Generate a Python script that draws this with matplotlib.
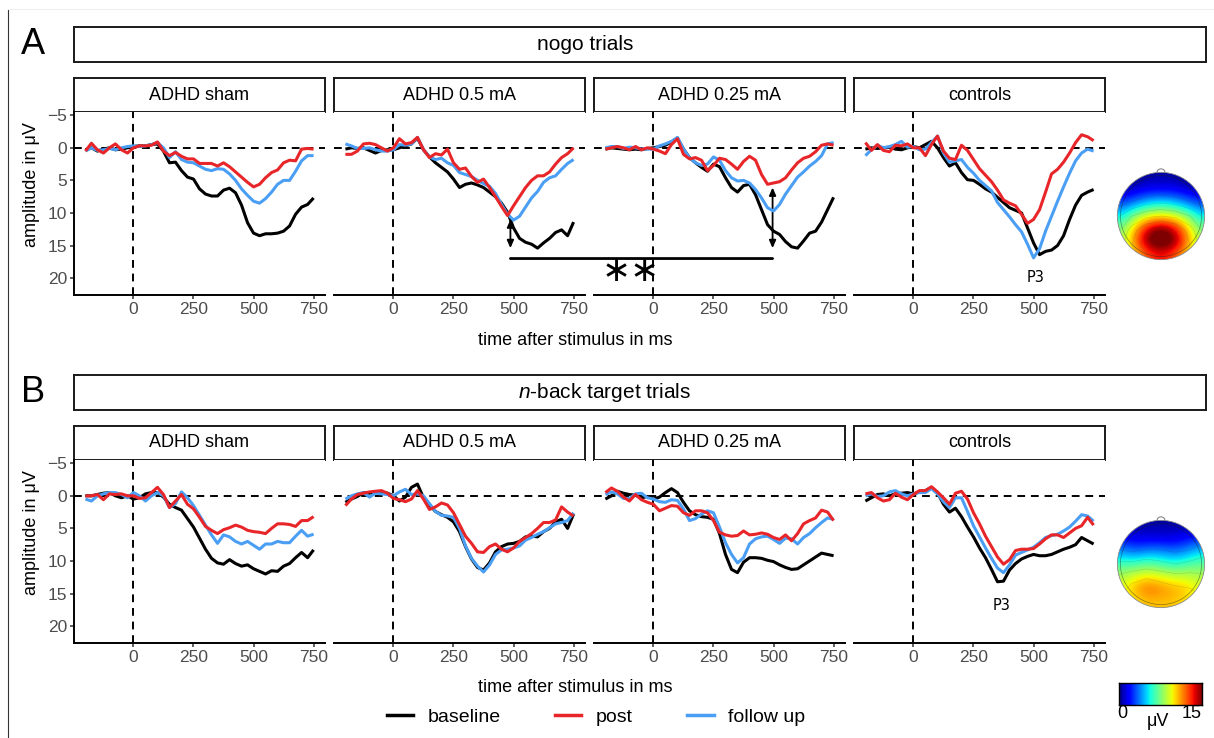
import numpy as np
import matplotlib.pyplot as plt
from matplotlib.patches import Circle, Arc, ConnectionPatch
from matplotlib.lines import Line2D

plt.rcParams['font.family'] = 'Liberation Sans'
plt.rcParams['mathtext.fontset'] = 'custom'
plt.rcParams['mathtext.rm'] = 'Liberation Sans'
plt.rcParams['mathtext.it'] = 'Liberation Sans:italic'

# time after stimulus (ms), grand-average ERP sampled every 25 ms
time = np.arange(-200, 751, 25)

# nogo trials
a_sham_base = [0.3, 0.0, 0.5, 0.2, 0.0, 0.3, 0.2, 0.0, -0.2, -0.3, -0.3, -0.5, -0.6, 0.5, 2.3, 2.2, 3.5, 4.5, 4.8, 6.3, 7.1, 7.4, 7.4, 6.5, 6.2, 6.9, 8.8, 11.5, 13.1, 13.5, 13.2, 13.2, 13.1, 12.8, 12.0, 10.2, 9.1, 8.7, 7.7]
a_sham_post = [0.5, -0.7, 0.3, 0.8, 0.0, -0.6, 0.3, 0.8, 0.0, -0.3, -0.3, -0.4, -0.9, 0.5, 1.2, 0.7, 1.3, 1.7, 1.7, 2.4, 2.4, 2.4, 2.8, 2.3, 2.9, 3.7, 4.5, 5.3, 6.0, 5.6, 4.6, 3.8, 3.4, 2.3, 1.9, 2.0, 0.2, 0.1, 0.2]
a_sham_fu = [0.5, 0.0, 0.4, 0.3, 0.1, 0.3, 0.0, -0.2, -0.3, -0.2, -0.3, -0.5, -0.8, 0.0, 1.5, 0.6, 1.8, 2.2, 2.3, 2.8, 3.3, 3.5, 3.2, 3.3, 4.0, 5.0, 6.3, 7.3, 8.2, 8.5, 7.8, 6.8, 5.6, 5.0, 5.0, 3.6, 2.0, 1.2, 1.2]

a_high_base = [0.2, 0.0, 0.1, 0.0, 0.4, 0.8, 0.4, 0.3, 0.3, 0.0, -0.3, -0.6, -1.5, 0.3, 1.4, 2.3, 3.0, 3.7, 4.8, 6.1, 5.6, 5.4, 5.7, 6.1, 6.8, 7.5, 8.5, 9.9, 12.3, 13.9, 14.5, 14.8, 15.4, 14.6, 13.9, 13.0, 12.6, 13.5, 11.4]
a_high_post = [1.0, 1.0, 0.5, -0.6, -0.7, -0.5, 0.0, 0.5, 0.0, -1.4, -0.6, -0.8, -1.6, 0.3, 1.5, 0.9, 1.1, 0.2, 2.3, 3.3, 3.1, 4.4, 5.3, 4.8, 6.1, 7.5, 9.0, 10.4, 8.9, 7.5, 6.1, 5.0, 4.3, 4.3, 3.7, 2.5, 1.5, 0.9, 0.0]
a_high_fu = [-0.6, -0.3, 0.1, 0.1, 0.0, 0.3, 0.5, 0.5, 0.3, -0.5, -0.4, -0.6, -1.6, 0.3, 1.4, 1.8, 1.6, 2.3, 2.7, 3.8, 4.1, 4.4, 5.0, 5.5, 5.9, 7.0, 8.7, 10.2, 11.1, 10.5, 9.1, 7.7, 6.7, 5.3, 4.6, 4.3, 3.3, 2.4, 1.8]

a_low_base = [0.2, 0.0, 0.1, 0.2, 0.3, 0.2, 0.3, 0.1, 0.0, -0.2, -0.4, -0.9, -1.5, 0.2, 1.5, 2.3, 3.0, 3.6, 2.5, 2.9, 4.6, 6.1, 6.8, 5.8, 5.6, 7.2, 9.5, 11.8, 12.8, 13.3, 14.4, 15.2, 15.4, 14.3, 13.1, 12.8, 11.4, 9.5, 7.6]
a_low_post = [0.2, 0.0, -0.2, 0.0, 0.3, -0.2, 0.3, 0.0, 0.2, 0.5, 0.9, -0.5, -1.4, 1.0, 1.7, 1.5, 1.9, 3.5, 2.7, 1.6, 1.8, 2.5, 3.3, 2.1, 1.3, 1.9, 4.1, 5.6, 5.4, 5.2, 4.6, 3.4, 2.3, 1.6, 1.3, 0.6, -0.4, -0.6, -0.4]
a_low_fu = [0.0, -0.2, -0.2, 0.1, -0.1, 0.0, 0.2, 0.2, 0.2, -0.3, -0.6, -1.0, -1.6, 0.2, 1.5, 2.3, 2.7, 2.5, 1.4, 1.9, 3.5, 4.6, 5.1, 5.0, 5.4, 6.4, 7.7, 9.2, 9.7, 8.7, 7.1, 5.8, 4.5, 3.7, 2.8, 2.1, 1.2, -0.6, -0.8]

a_ctrl_base = [0.2, 0.0, 0.1, 0.0, -0.1, 0.2, 0.3, 0.0, -0.2, 0.0, -0.5, -1.0, 0.0, 1.5, 2.8, 2.3, 3.8, 4.9, 5.0, 5.6, 6.3, 6.8, 7.6, 8.4, 9.2, 9.6, 10.0, 12.3, 14.6, 16.4, 15.9, 15.7, 15.0, 13.5, 11.0, 8.8, 7.3, 6.8, 6.4]
a_ctrl_post = [-0.8, 0.4, -0.5, 0.4, 0.6, -0.4, -0.3, -0.6, 0.0, 0.0, 1.2, -0.5, -1.8, 0.5, 1.6, 1.8, -0.4, 0.4, 1.8, 3.2, 4.2, 5.2, 6.5, 8.0, 8.5, 8.9, 10.2, 11.6, 11.0, 9.5, 6.8, 4.0, 3.3, 2.2, 0.8, -0.8, -2.0, -1.7, -1.1]
a_ctrl_fu = [1.2, 0.3, -0.4, 0.0, -0.2, -0.5, -1.0, -0.1, -0.2, 0.3, 0.2, -0.8, -1.8, 0.8, 2.2, 2.0, 1.8, 3.0, 3.9, 5.0, 5.8, 6.6, 8.4, 9.5, 10.6, 11.8, 12.9, 14.8, 16.9, 15.5, 12.8, 10.5, 8.2, 6.0, 3.9, 2.0, 0.8, 0.2, 0.5]

# n-back target trials
b_sham_base = [0.0, 0.0, -0.2, -0.4, -0.5, 0.0, 0.3, 0.0, 0.5, 0.3, -0.3, -0.5, -0.5, 0.2, 1.3, 1.8, 2.2, 3.5, 4.8, 6.5, 8.2, 9.6, 10.3, 10.5, 9.8, 10.4, 10.8, 10.6, 11.2, 11.6, 12.0, 11.5, 11.6, 10.8, 10.4, 9.5, 8.7, 9.5, 8.3]
b_sham_post = [0.0, 0.0, -0.2, 0.6, -0.3, -0.2, -0.3, 0.0, 0.0, 0.4, 0.3, -0.5, -1.3, -0.2, 1.8, 0.8, -0.2, 1.3, 2.0, 3.3, 4.7, 5.3, 5.8, 5.2, 4.9, 4.5, 4.8, 5.3, 5.5, 5.6, 5.8, 5.0, 4.3, 4.3, 4.4, 4.7, 3.8, 3.8, 3.2]
b_sham_fu = [0.5, 0.8, 0.0, -0.3, -0.5, -0.5, -0.2, 0.3, -0.5, 0.0, 0.8, 0.0, -0.5, 0.0, 1.8, 1.2, -0.6, 0.3, 1.5, 3.0, 4.5, 6.0, 7.3, 6.0, 6.3, 7.0, 7.4, 7.0, 7.6, 8.2, 7.4, 7.4, 7.0, 7.2, 7.2, 6.2, 5.3, 6.2, 5.9]

b_high_base = [1.0, 0.5, 0.1, -0.5, -0.4, -0.6, -0.6, -0.4, 0.0, 0.8, 0.2, -1.3, -1.8, 0.3, 1.4, 2.4, 2.9, 3.3, 4.0, 5.5, 7.8, 9.7, 11.0, 11.4, 10.3, 8.6, 7.8, 7.4, 7.3, 7.0, 6.3, 6.2, 6.3, 5.5, 5.0, 4.0, 3.6, 5.0, 2.8]
b_high_post = [1.5, 0.5, -0.2, -0.4, -0.6, -0.7, -0.8, -0.4, 0.4, 0.6, 0.9, 0.5, -0.8, 0.5, 2.1, 1.7, 1.1, 1.4, 2.6, 4.4, 6.2, 7.3, 8.6, 8.7, 7.8, 7.4, 8.2, 8.6, 8.0, 7.0, 6.4, 5.8, 5.0, 4.1, 4.1, 3.7, 1.7, 2.5, 3.1]
b_high_fu = [0.5, 0.0, -0.3, -0.5, 0.2, -0.4, -0.3, -0.2, 0.0, -0.6, -1.0, -0.2, -0.3, 0.0, 1.2, 2.4, 3.0, 3.1, 3.3, 5.0, 7.7, 9.6, 10.8, 11.7, 10.6, 9.0, 8.3, 8.2, 8.0, 7.7, 6.8, 6.4, 5.9, 5.5, 4.9, 4.3, 4.1, 3.8, 2.6]

b_low_base = [0.5, 0.0, -0.7, -0.4, -0.2, -0.1, 0.3, 0.1, 0.5, 0.2, -0.5, -1.1, -0.5, 1.0, 2.3, 2.9, 3.2, 3.3, 3.6, 5.8, 9.0, 11.3, 11.8, 10.2, 9.5, 9.5, 9.6, 9.9, 10.1, 10.6, 11.0, 11.3, 11.2, 10.6, 10.0, 9.4, 8.8, 9.0, 9.2]
b_low_post = [-0.5, -1.2, -0.7, 0.2, 0.8, -0.2, 0.6, 1.0, 1.3, 2.3, 1.9, 1.5, 1.6, 2.6, 3.0, 2.3, 2.3, 2.6, 3.8, 5.6, 6.0, 6.2, 6.1, 5.4, 6.0, 5.9, 5.7, 5.9, 6.4, 6.7, 6.0, 6.9, 5.8, 4.3, 3.8, 3.4, 2.2, 2.5, 3.8]
b_low_fu = [-0.2, -0.6, -0.3, 0.4, 0.4, -0.3, -0.4, 0.3, 0.5, 0.9, 1.0, 0.6, 0.7, 2.0, 3.8, 3.5, 2.8, 2.3, 2.6, 4.8, 7.2, 9.0, 10.3, 9.5, 7.4, 6.6, 6.3, 6.2, 6.7, 7.3, 6.5, 6.6, 7.4, 6.4, 5.8, 4.9, 4.1, 3.4, 3.6]

b_ctrl_base = [0.8, 0.3, -0.2, -0.3, 0.0, -0.3, -0.4, -0.5, -0.3, -0.6, -0.8, -1.3, -0.5, 1.3, 2.5, 1.9, 3.2, 4.8, 6.3, 8.0, 9.5, 11.3, 13.2, 13.1, 11.4, 10.4, 9.7, 9.3, 9.0, 9.2, 9.2, 9.0, 8.6, 8.2, 7.9, 7.5, 6.4, 6.9, 7.4]
b_ctrl_post = [-0.3, -0.5, 0.3, 0.8, 0.6, -0.4, 0.2, 0.6, -0.2, -0.8, -0.8, -1.4, -0.6, 0.3, 1.3, -0.4, -0.7, 0.5, 2.6, 4.3, 6.2, 7.8, 9.4, 10.5, 9.8, 8.4, 8.2, 8.2, 8.1, 7.4, 6.6, 6.0, 6.0, 6.4, 5.7, 5.0, 4.6, 3.3, 4.5]
b_ctrl_fu = [0.0, -0.3, 0.1, 0.0, -0.6, -0.8, -0.3, 0.0, -0.3, -0.5, -0.5, -1.1, -0.3, 0.9, 1.8, 0.3, 0.3, 2.4, 4.6, 6.3, 8.0, 9.6, 11.1, 11.8, 10.6, 9.1, 8.7, 8.3, 7.9, 7.2, 6.4, 6.1, 5.9, 5.4, 4.8, 3.9, 2.9, 3.1, 3.9]

groups = ['ADHD sham', 'ADHD 0.5 mA', 'ADHD 0.25 mA', 'controls']
sessions = ['baseline', 'post', 'follow up']
session_colors = ['#000000', '#E8262A', '#4A9FF5']

# P3 scalp topography (µV), rows front -> back
nogo_topo = [[0.0, 0.0, 0.5, 0.5, 0.5, 0.0, 0.0],
             [1.0, 1.5, 2.0, 2.0, 2.0, 1.5, 1.0],
             [3.0, 4.0, 5.0, 5.5, 5.0, 4.0, 3.0],
             [5.5, 8.0, 9.5, 10.0, 9.5, 8.0, 5.5],
             [7.5, 11.0, 14.0, 15.5, 14.0, 11.0, 7.5],
             [8.5, 12.0, 15.5, 16.5, 15.5, 12.0, 8.5],
             [7.5, 10.5, 12.5, 13.5, 12.5, 10.5, 7.5]]
nback_topo = [[0.5, 0.5, 0.5, 0.5, 0.5, 0.5, 0.5],
              [2.0, 1.5, 1.5, 1.5, 1.5, 2.0, 2.5],
              [4.0, 3.5, 4.0, 4.0, 3.5, 4.0, 5.0],
              [6.5, 6.5, 7.0, 6.5, 6.0, 6.5, 7.0],
              [8.5, 9.5, 10.0, 9.5, 9.0, 9.0, 8.5],
              [9.5, 11.0, 12.0, 11.5, 11.0, 10.5, 9.5],
              [9.0, 10.0, 10.5, 10.5, 10.5, 10.0, 9.0]]

W, H = 1214, 738
fig = plt.figure(figsize=(W / 100, H / 100), dpi=100)


def box(x, y, w, h):
    # pixel box (from top-left) -> figure fraction
    return [x / W, 1 - (y + h) / H, w / W, h / H]


def strip(x, y, w, h):
    ax = fig.add_axes(box(x, y, w, h))
    ax.set_xticks([])
    ax.set_yticks([])
    for s in ax.spines.values():
        s.set_linewidth(1.4)
        s.set_color('#1a1a1a')
    return ax


def topo(x, y, values):
    ax = fig.add_axes(box(x, y, 96, 96))
    im = ax.imshow(values, extent=(-1, 1, -1, 1), cmap='jet', vmin=0, vmax=15,
                   interpolation='bicubic', origin='upper')
    head = Circle((0, 0), 1.0, transform=ax.transData)
    im.set_clip_path(head)
    gx = np.linspace(-1, 1, 7)
    cs = ax.contour(gx, gx[::-1], values, levels=np.arange(2, 16, 2),
                    colors='#333333', linewidths=0.3, alpha=0.25)
    cs.set_clip_path(head)
    ax.add_patch(Circle((0, 0), 0.93, fill=False, ec='#222222', lw=0.5, alpha=0.5))
    ax.add_patch(Circle((0, 0), 1.0, fill=False, ec='#888888', lw=0.6))
    ax.add_patch(Arc((0, 1.0), 0.18, 0.16, theta1=0, theta2=180, ec='#888888', lw=0.8))
    ax.set_xlim(-1.1, 1.1)
    ax.set_ylim(-1.1, 1.1)
    ax.axis('off')
    return ax


fx = [74, 334, 594, 854]
fw = 251

panels = [
    dict(letter='A', top=27, title='nogo trials', title_x=585,
         data=[(a_sham_base, a_sham_post, a_sham_fu), (a_high_base, a_high_post, a_high_fu),
               (a_low_base, a_low_post, a_low_fu), (a_ctrl_base, a_ctrl_post, a_ctrl_fu)],
         topo=nogo_topo, p3=(510, 19.9)),
    dict(letter='B', top=375, title='$n$-back target trials', title_x=604,
         data=[(b_sham_base, b_sham_post, b_sham_fu), (b_high_base, b_high_post, b_high_fu),
               (b_low_base, b_low_post, b_low_fu), (b_ctrl_base, b_ctrl_post, b_ctrl_fu)],
         topo=nback_topo, p3=(365, 16.9)),
]

axes_a = []
for p in panels:
    t0 = p['top']
    fig.text(33 / W, 1 - (t0 + 18) / H, p['letter'], fontsize=26, ha='center', va='center')
    strip(74, t0, 1132, 35)
    fig.text(p['title_x'] / W, 1 - (t0 + 18) / H, p['title'], fontsize=15, ha='center', va='center')

    sy = t0 + 51
    py = sy + 34
    ph = 183
    row_axes = []
    for i, (label, series) in enumerate(zip(groups, p['data'])):
        s = strip(fx[i], sy, fw, 34)
        s.text(0.5, 0.5, label, fontsize=13, ha='center', va='center', transform=s.transAxes)

        ax = fig.add_axes(box(fx[i], py, fw, ph))
        ax.axhline(0, color='black', lw=1.4, ls=(0, (4, 3)), zorder=1)
        ax.axvline(0, color='black', lw=1.4, ls=(0, (4, 3)), zorder=1)
        for order, (vals, col) in enumerate(zip(series, session_colors)):
            ax.plot(time, vals, color=col, lw=2.2, zorder=[3, 5, 4][order],
                    solid_capstyle='butt')
        ax.set_xlim(-247.5, 797.5)
        ax.set_ylim(22.6, -5.5)
        ax.set_xticks([0, 250, 500, 750])
        ax.set_yticks([-5, 0, 5, 10, 15, 20])
        ax.spines[['top', 'right']].set_visible(False)
        ax.spines['bottom'].set_linewidth(1.4)
        ax.spines['left'].set_linewidth(1.4)
        ax.tick_params(length=3, width=1.1, color='#333333', labelcolor='#4D4D4D',
                       labelsize=12.5, pad=2)
        if i > 0:
            ax.spines['left'].set_visible(False)
            ax.tick_params(axis='y', left=False, labelleft=False)
        row_axes.append(ax)

    fig.text(32 / W, 1 - (sy + 107) / H, 'amplitude in μV', rotation=90,
             fontsize=13, ha='center', va='center')
    fig.text(575 / W, 1 - (py + ph + 45) / H, 'time after stimulus in ms',
             fontsize=13, ha='center', va='center')

    row_axes[3].text(p['p3'][0], p['p3'][1], 'P3', fontsize=10.5, family='DejaVu Sans',
                     ha='center', va='center')
    topo(1113, py + 56, p['topo'])
    if p['letter'] == 'A':
        axes_a = row_axes

# significant post-stimulus difference between the two active groups (nogo)
ax2, ax3 = axes_a[1], axes_a[2]
arrow = dict(arrowstyle='<|-|>,head_length=0.45,head_width=0.2', color='black',
             lw=1.3, shrinkA=0, shrinkB=0)
ax2.annotate('', xy=(487, 11.0), xytext=(487, 15.4), arrowprops=arrow)
ax3.annotate('', xy=(496, 6.1), xytext=(496, 15.4), arrowprops=arrow)
bar = ConnectionPatch(xyA=(487, 17.0), coordsA=ax2.transData,
                      xyB=(496, 17.0), coordsB=ax3.transData, color='black', lw=2)
fig.add_artist(bar)
ax3.text(-96, 18.9, '∗∗', family='DejaVu Sans', fontsize=25, ha='center', va='center',
         clip_on=False)

# legend
handles = [Line2D([], [], color=c, lw=2.5) for c in session_colors]
fig.legend(handles, sessions, loc='center', bbox_to_anchor=(596 / W, 1 - 717 / H),
           ncol=3, frameon=False, fontsize=14, handlelength=1.35, handletextpad=0.75,
           columnspacing=2.8)

# colour scale of the maps
cax = fig.add_axes(box(1119, 683, 83, 22))
cax.imshow(np.linspace(0, 15, 256)[None, :], cmap='jet', aspect='auto', extent=(0, 15, 0, 1))
cax.set_xticks([])
cax.set_yticks([])
for s in cax.spines.values():
    s.set_linewidth(1.0)
fig.text(1122 / W, 1 - 714 / H, '0', fontsize=13, ha='center', va='center')
fig.text(1192 / W, 1 - 713 / H, '15', fontsize=13, ha='center', va='center')
fig.text(1158 / W, 1 - 722 / H, 'μV', fontsize=13, ha='center', va='center')

# outer frame lines
fig.add_artist(Line2D([8 / W, 8 / W], [0, 1 - 10 / H], color='#333333', lw=0.8))
fig.add_artist(Line2D([8 / W, 1], [1 - 9 / H, 1 - 9 / H], color='#eeeeee', lw=0.8))

fig.savefig('out.png', dpi=100, facecolor='white')
